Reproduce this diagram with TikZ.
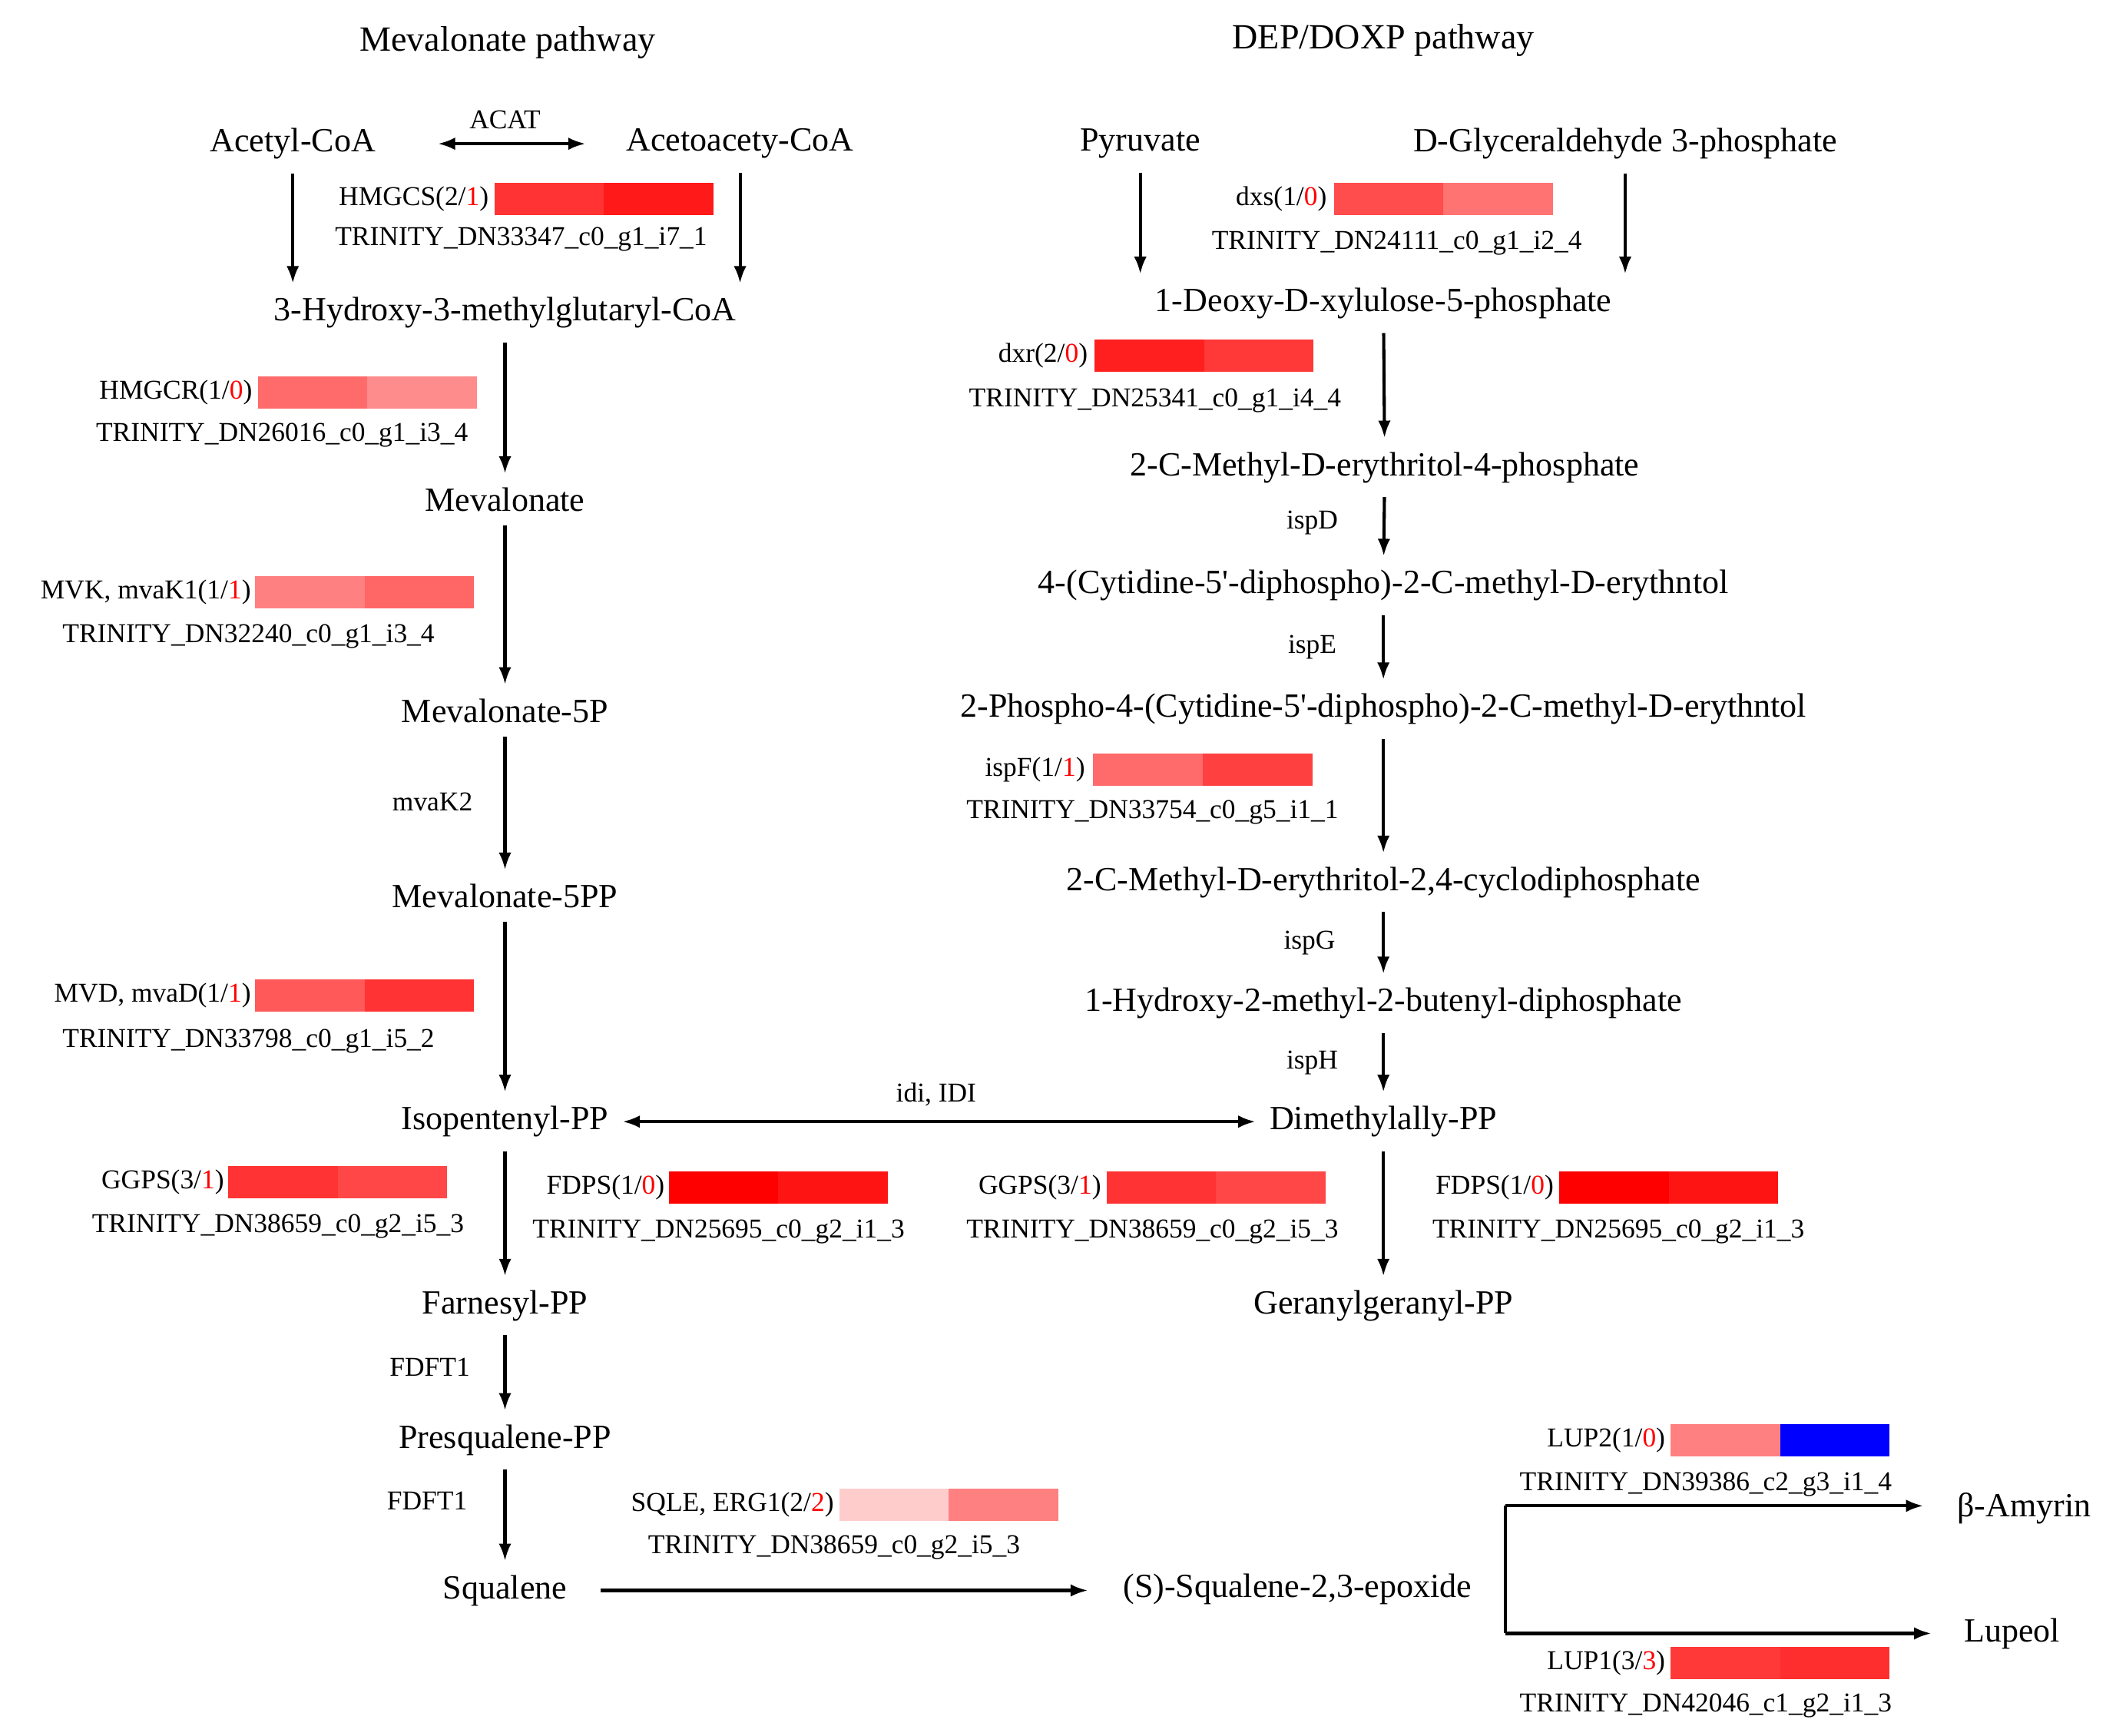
\documentclass[tikz,border=0pt]{standalone}
\usepackage{fontspec}
\setmainfont{Liberation Serif}
\usetikzlibrary{arrows.meta}
\newcommand\rn[1]{\textcolor{red}{#1}}
\newcommand\pr{\textquotesingle}
\newcommand\heat[4]{%
  \fill[#3] (#1,#2-12) rectangle ++(81.5,24);
  \fill[#4] (#1+81.5,#2-12) rectangle ++(81.5,24);}
\begin{document}
\begin{tikzpicture}[x=0.03cm,y=-0.03cm,
  main/.style={inner sep=0pt,outer sep=9pt,font=\fontsize{21.5}{25}\selectfont},
  big/.style={inner sep=0pt,font=\fontsize{22.5}{26}\selectfont},
  sm/.style={inner sep=0pt,font=\fontsize{17.3}{20}\selectfont},
  gene/.style={inner sep=0pt,anchor=east,font=\fontsize{17.3}{20}\selectfont},
  arr/.style={line width=2pt,-{Latex[length=11pt,width=8pt]}},
  darr/.style={line width=2pt,{Latex[length=11pt,width=8pt]}-{Latex[length=11pt,width=8pt]}}]
\useasboundingbox (0,0) rectangle (1568,1292);
% titles
\node[big] (t1) at (378,32) {Mevalonate pathway};
\node[big] (t2) at (1030,30) {DEP/DOXP pathway};
% ---- mevalonate
\node[main] (acetyl) at (218,107) {Acetyl-CoA};
\node[main] (aceto) at (551,107) {Acetoacety-CoA};
\node[sm] (acat) at (376,89) {ACAT};
\coordinate (acL) at (326,107); \coordinate (acR) at (436,107);
\draw[darr] (acL) -- (acR);
\node[main] (hmg) at (376,233) {3-Hydroxy-3-methylglutaryl-CoA};
\draw[arr] (acetyl.south) -- (acetyl.south |- hmg.north);
\draw[arr] (aceto.south) -- (aceto.south |- hmg.north);
\node[gene] (g1) at (364,148) {HMGCS(2/\rn{1})};
\heat{368}{148}{red!80}{red!90}
\node[sm] (tr1) at (388,178) {TRINITY\_DN33347\_c0\_g1\_i7\_1};
\node[main] (mev) at (376,372) {Mevalonate};
\draw[arr] (hmg) -- (mev);
\node[gene] (g2) at (188,292) {HMGCR(1/\rn{0})};
\heat{192}{292}{red!58}{red!45}
\node[sm] (tr2) at (210,324) {TRINITY\_DN26016\_c0\_g1\_i3\_4};
\node[main] (mev5p) at (376,529) {Mevalonate-5P};
\draw[arr] (mev) -- (mev5p);
\node[gene] (g3) at (187,441) {MVK, mvaK1(1/\rn{1})};
\heat{190}{441}{red!50}{red!60}
\node[sm] (tr3) at (185,474) {TRINITY\_DN32240\_c0\_g1\_i3\_4};
\node[main] (mev5pp) at (376,667) {Mevalonate-5PP};
\draw[arr] (mev5p) -- (mev5pp);
\node[sm] (mk2) at (322,597) {mvaK2};
\node[main] (ipp) at (376,835) {Isopentenyl-PP};
\draw[arr] (mev5pp) -- (ipp);
\node[gene] (g4) at (187,741) {MVD, mvaD(1/\rn{1})};
\heat{190}{741}{red!65}{red!80}
\node[sm] (tr4) at (185,775) {TRINITY\_DN33798\_c0\_g1\_i5\_2};
\node[main] (dma) at (1030,835) {Dimethylally-PP};
\draw[darr] (ipp) -- (dma);
\node[sm] (idi) at (697,815) {idi, IDI};
\node[main] (fpp) at (376,972) {Farnesyl-PP};
\draw[arr] (ipp) -- (fpp);
\node[gene] (g5) at (167,880) {GGPS(3/\rn{1})};
\heat{170}{880}{red!80}{red!72}
\node[sm] (tr5) at (207,913) {TRINITY\_DN38659\_c0\_g2\_i5\_3};
\node[gene] (g6) at (495,884) {FDPS(1/\rn{0})};
\heat{498}{884}{red}{red!92}
\node[sm] (tr6) at (535,917) {TRINITY\_DN25695\_c0\_g2\_i1\_3};
\node[main] (pre) at (376,1072) {Presqualene-PP};
\draw[arr] (fpp) -- (pre);
\node[sm] (f1) at (320,1018) {FDFT1};
\node[main] (sq) at (376,1184) {Squalene};
\draw[arr] (pre) -- (sq);
\node[sm] (f2) at (318,1117) {FDFT1};
\node[main,outer sep=0pt] (epo) at (966,1183) {(S)-Squalene-2,3-epoxide};
\coordinate (sqR) at (447,1184); \coordinate (epL) at (810,1184);
\draw[arr] (sqR) -- (epL);
\node[gene] (g7) at (621,1120) {SQLE, ERG1(2/\rn{2})};
\heat{625}{1120}{red!20}{red!50}
\node[sm] (tr7) at (621,1152) {TRINITY\_DN38659\_c0\_g2\_i5\_3};
% branch
\node[main,outer sep=0pt] (amy) at (1507,1123) {β-Amyrin};
\node[main,outer sep=0pt] (lup) at (1498,1216) {Lupeol};
\coordinate (b1) at (1121,1121); \coordinate (b2) at (1121,1216);
\coordinate (e1) at (1432,1121); \coordinate (e2) at (1438,1216);
\draw[line width=2pt] (b1) -- (b2);
\draw[arr] (b1) -- (e1);
\draw[arr] (b2) -- (e2);
\node[gene] (g8) at (1240,1072) {LUP2(1/\rn{0})};
\heat{1244}{1072}{red!50}{blue}
\node[sm] (tr8) at (1270,1105) {TRINITY\_DN39386\_c2\_g3\_i1\_4};
\node[gene] (g9) at (1240,1238) {LUP1(3/\rn{3})};
\heat{1244}{1238}{red!78}{red!82}
\node[sm] (tr9) at (1270,1270) {TRINITY\_DN42046\_c1\_g2\_i1\_3};
% ---- DXP
\node[main] (pyr) at (849,107) {Pyruvate};
\node[main] (gap) at (1210,107) {D-Glyceraldehyde 3-phosphate};
\node[main] (dxp) at (1030,226) {1-Deoxy-D-xylulose-5-phosphate};
\draw[arr] (pyr.south) -- (pyr.south |- dxp.north);
\draw[arr] (gap.south) -- (gap.south |- dxp.north);
\node[gene] (g10) at (988,148) {dxs(1/\rn{0})};
\heat{993}{148}{red!70}{red!55}
\node[sm] (tr10) at (1040,181) {TRINITY\_DN24111\_c0\_g1\_i2\_4};
\node[main] (mep) at (1031,348) {2-C-Methyl-D-erythritol-4-phosphate};
\draw[arr] (dxp) -- (mep);
\node[gene] (g11) at (810,265) {dxr(2/\rn{0})};
\heat{815}{265}{red!88}{red!78}
\node[sm] (tr11) at (860,298) {TRINITY\_DN25341\_c0\_g1\_i4\_4};
\node[main] (cdp) at (1030,436) {4-(Cytidine-5\pr-diphospho)-2-C-methyl-D-erythntol};
\draw[arr] (mep) -- (cdp);
\node[sm] (ispd) at (977,389) {ispD};
\node[main] (cdpp) at (1030,528) {2-Phospho-4-(Cytidine-5\pr-diphospho)-2-C-methyl-D-erythntol};
\draw[arr] (cdp) -- (cdpp);
\node[sm] (ispe) at (977,482) {ispE};
\node[main] (mec) at (1030,657) {2-C-Methyl-D-erythritol-2,4-cyclodiphosphate};
\draw[arr] (cdpp) -- (mec);
\node[gene] (g12) at (808,573) {ispF(1/\rn{1})};
\heat{814}{573}{red!58}{red!75}
\node[sm] (tr12) at (858,605) {TRINITY\_DN33754\_c0\_g5\_i1\_1};
\node[main] (hmb) at (1030,747) {1-Hydroxy-2-methyl-2-butenyl-diphosphate};
\draw[arr] (mec) -- (hmb);
\node[sm] (ispg) at (975,702) {ispG};
\draw[arr] (hmb) -- (dma);
\node[sm] (isph) at (977,791) {ispH};
\node[main] (ggpp) at (1030,972) {Geranylgeranyl-PP};
\draw[arr] (dma) -- (ggpp);
\node[gene] (g13) at (820,884) {GGPS(3/\rn{1})};
\heat{824}{884}{red!80}{red!72}
\node[sm] (tr13) at (858,917) {TRINITY\_DN38659\_c0\_g2\_i5\_3};
\node[gene] (g14) at (1157,884) {FDPS(1/\rn{0})};
\heat{1161}{884}{red}{red!92}
\node[sm] (tr14) at (1205,917) {TRINITY\_DN25695\_c0\_g2\_i1\_3};
\end{tikzpicture}
\end{document}
